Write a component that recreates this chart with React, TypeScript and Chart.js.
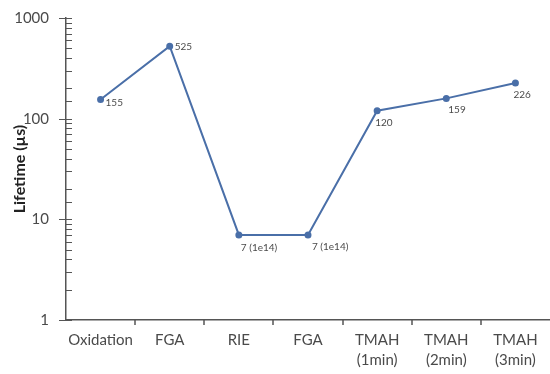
import React, { useEffect, useRef } from 'react';
import { Chart, registerables } from 'chart.js';
Chart.register(...registerables);

const categories: string[][] = [
  ['Oxidation'], ['FGA'], ['RIE'], ['FGA'],
  ['TMAH', '(1min)'], ['TMAH', '(2min)'], ['TMAH', '(3min)'],
];
const lifetimes = [155, 525, 7, 7, 120, 159, 226];
const pointLabels = ['155', '525', '7 (1e14)', '7 (1e14)', '120', '159', '226'];
const yMin = 1;
const yMax = 1000;

// label placement style relative to each point: [dx, dy]
const labelOffsets: [number, number][] = [
  [5, 3], [5, 1], [2, 13], [4, 12], [-2, 12], [2, 11], [-2, 12],
];

const FONT = 'Lato, "Open Sans", sans-serif';
const LINE = '#4a6fa8';
const AXIS = '#555555';
const TEXT = '#4a4a4a';

const decorPlugin = {
  id: 'decor',
  afterDraw(chart: any) {
    const ctx = chart.ctx;
    const y = chart.scales.y;
    const x = chart.scales.x;
    ctx.save();
    ctx.strokeStyle = AXIS;
    ctx.lineWidth = 1;
    const ax = y.right;
    y.ticks.forEach((t: any) => {
      const py = Math.round(y.getPixelForValue(t.value)) + 0.5;
      const lg = Math.log10(t.value);
      const major = Math.abs(lg - Math.round(lg)) < 1e-9;
      ctx.beginPath();
      if (major) {
        ctx.moveTo(ax - 7, py);
        ctx.lineTo(ax + 6, py);
      } else {
        ctx.moveTo(ax, py);
        ctx.lineTo(ax + 6, py);
      }
      ctx.stroke();
    });
    const by = x.top;
    ctx.lineWidth = 1.5;
    for (let i = 0; i < categories.length - 1; i++) {
      const px = Math.round((x.getPixelForValue(i) + x.getPixelForValue(i + 1)) / 2);
      ctx.beginPath();
      ctx.moveTo(px, by);
      ctx.lineTo(px, by + 5);
      ctx.stroke();
    }
    const meta = chart.getDatasetMeta(0);
    ctx.fillStyle = TEXT;
    ctx.font = `10px ${FONT}`;
    ctx.textAlign = 'left';
    ctx.textBaseline = 'middle';
    meta.data.forEach((pt: any, i: number) => {
      const [dx, dy] = labelOffsets[i];
      ctx.fillText(pointLabels[i], pt.x + dx, pt.y + dy);
    });
    ctx.restore();
  },
};

export default function App() {
  const ref = useRef<HTMLCanvasElement | null>(null);
  useEffect(() => {
    document.body.style.margin = '0';
    if (!ref.current) return;
    const chart = new Chart(ref.current, {
      type: 'line',
      data: {
        labels: categories,
        datasets: [{
          data: lifetimes,
          borderColor: LINE,
          backgroundColor: LINE,
          borderWidth: 2,
          pointRadius: 2.5,
          pointHoverRadius: 2.5,
          pointStyle: 'circle',
          tension: 0,
          clip: false,
        }],
      },
      options: {
        animation: false,
        responsive: false,
        events: [],
        layout: { autoPadding: false, padding: { top: 18, right: 0, left: 0, bottom: 0 } },
        plugins: { legend: { display: false }, tooltip: { enabled: false } },
        scales: {
          x: {
            type: 'category',
            offset: true,
            grid: {
              display: true,
              drawOnChartArea: false,
              drawTicks: true,
              tickLength: 7,
              color: 'rgba(0,0,0,0)',
            },
            border: { display: true, color: AXIS, width: 1.5 },
            ticks: {
              color: TEXT,
              font: { family: FONT, size: 15, lineHeight: 1.33 },
              padding: 3,
              maxRotation: 0,
              autoSkip: false,
            },
            afterFit(scale: any) {
              scale.height = 54;
              scale.paddingLeft = 0;
              scale.paddingRight = 0;
            },
          },
          y: {
            type: 'logarithmic',
            min: yMin,
            max: yMax,
            grid: { display: false },
            border: { display: true, color: AXIS, width: 1.5 },
            ticks: {
              color: TEXT,
              font: { family: FONT, size: 15 },
              padding: 9,
              autoSkip: false,
              callback(value: any) {
                const lg = Math.log10(Number(value));
                return Math.abs(lg - Math.round(lg)) < 1e-9 ? String(value) : '';
              },
            },
            title: {
              display: true,
              text: 'Lifetime (µs)',
              color: '#222222',
              font: { family: FONT, size: 16, weight: 'bold' },
              padding: { top: 10, bottom: 0 },
            },
            afterFit(scale: any) {
              scale.width = 66;
              scale.paddingTop = 0;
              scale.paddingBottom = 0;
            },
          },
        },
      },
      plugins: [decorPlugin],
    });
    return () => chart.destroy();
  }, []);
  return <canvas ref={ref} width={550} height={374} style={{ display: 'block' }} />;
}
